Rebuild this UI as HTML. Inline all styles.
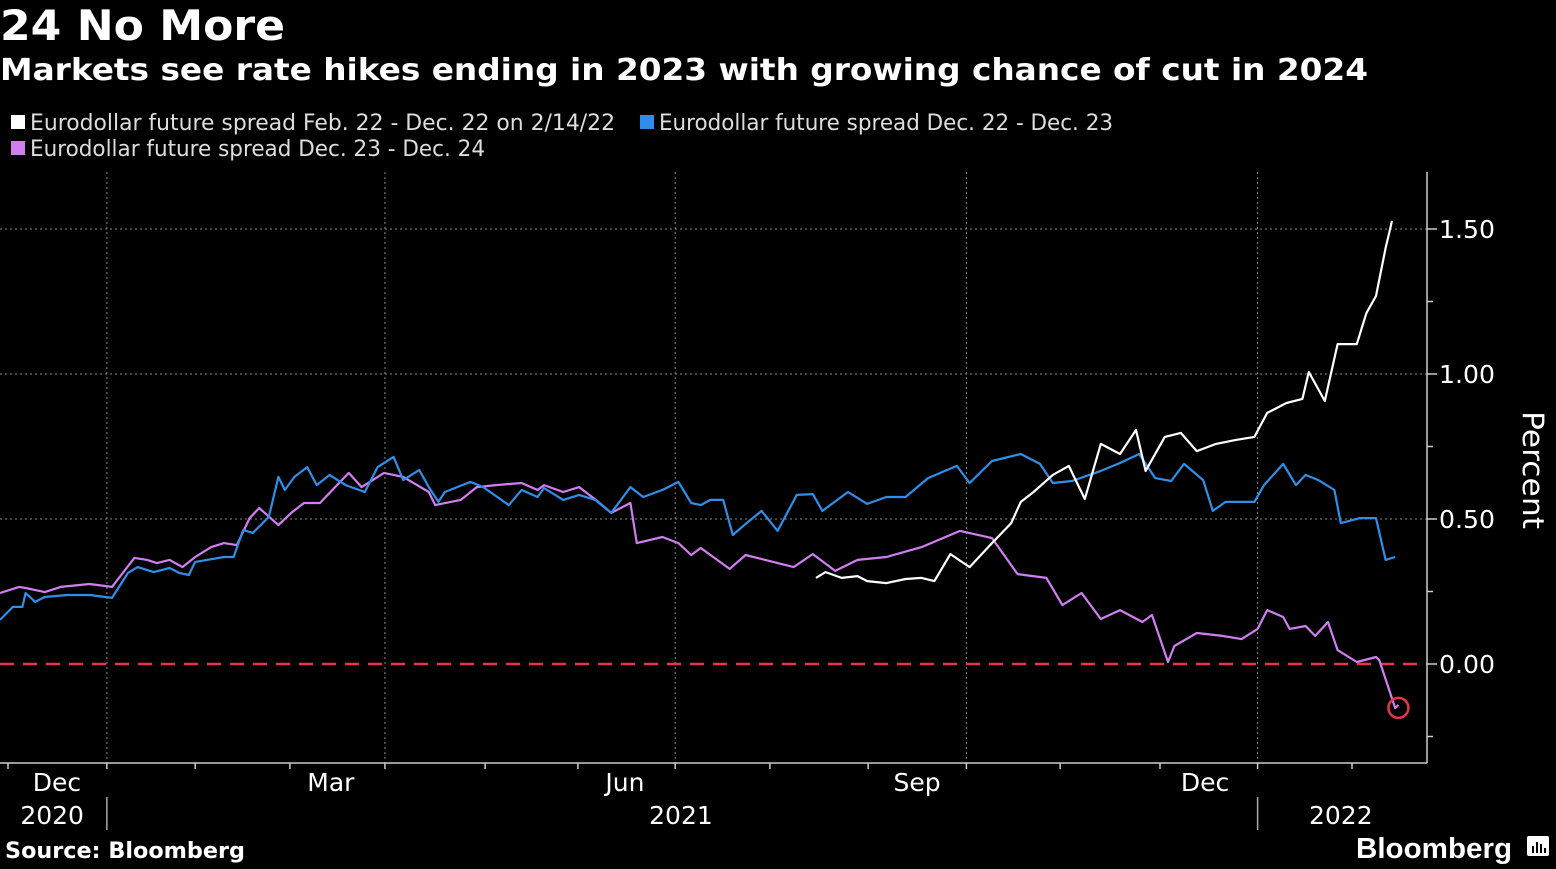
<!DOCTYPE html>
<html><head><meta charset="utf-8"><style>
html,body{margin:0;padding:0;background:#000;}
body{width:1556px;height:869px;overflow:hidden;position:relative;font-family:"DejaVu Sans","Liberation Sans",sans-serif;color:#fff;}
</style></head><body>
<svg id="chart" width="1556" height="869" xmlns="http://www.w3.org/2000/svg" style="position:absolute;left:0;top:0">
<rect width="1556" height="869" fill="#000"/>
<text x="0" y="40" font-size="42" font-weight="bold" fill="#fff" font-family="DejaVu Sans, sans-serif" textLength="285" lengthAdjust="spacingAndGlyphs">24 No More</text>
<text x="0" y="80" font-size="30" font-weight="bold" fill="#fff" font-family="DejaVu Sans, sans-serif" textLength="1368" lengthAdjust="spacingAndGlyphs">Markets see rate hikes ending in 2023 with growing chance of cut in 2024</text>
<g font-size="22" fill="#ddd" font-family="DejaVu Sans, sans-serif">
<g><rect x="11" y="115" width="14" height="14" fill="#fff"/><text x="30" y="130" textLength="585" lengthAdjust="spacingAndGlyphs">Eurodollar future spread Feb. 22 - Dec. 22 on 2/14/22</text></g>
<g><rect x="640" y="115" width="14" height="14" fill="#2f8fe8"/><text x="659" y="130" textLength="454" lengthAdjust="spacingAndGlyphs">Eurodollar future spread Dec. 22 - Dec. 23</text></g>
<g><rect x="11" y="141" width="14" height="14" fill="#d07ef0"/><text x="30" y="156" textLength="455" lengthAdjust="spacingAndGlyphs">Eurodollar future spread Dec. 23 - Dec. 24</text></g>
</g>
<g id="grid"></g>
<g id="axes"></g>
<g id="series"></g>
<text transform="translate(1523,470) rotate(90)" text-anchor="middle" font-size="29" fill="#fff" font-family="DejaVu Sans, sans-serif" textLength="118" lengthAdjust="spacingAndGlyphs">Percent</text>
<text x="5" y="858" font-size="22" font-weight="bold" fill="#fff" font-family="DejaVu Sans, sans-serif" textLength="240" lengthAdjust="spacingAndGlyphs">Source: Bloomberg</text>
<text x="1356" y="858" font-size="29" font-weight="bold" fill="#fff" font-family="Liberation Sans, sans-serif" textLength="156" lengthAdjust="spacingAndGlyphs">Bloomberg</text>
<g><rect x="1527" y="836" width="22" height="20" rx="2" fill="#fff"/><rect x="1532" y="846" width="2" height="7" fill="#000"/><rect x="1536" y="842" width="2" height="11" fill="#000"/><rect x="1540" y="844" width="2" height="9" fill="#000"/><rect x="1544" y="848" width="2" height="5" fill="#000"/></g>
</svg>
<script>
const yTicks=[0,0.5,1.0,1.5];
const yTickLabels=["0.00","0.50","1.00","1.50"];
const gridDays=[33.4,120.3,211,302,393];
const monthTickDays=[2.5,33.4,61,90.6,120.3,151.6,180.6,211,240.6,271.3,302,331.3,362.5,393,422.5];
const monthLabels=["Dec","Mar","Jun","Sep","Dec"];
const monthLabelDays=[17.8,103.4,195.3,286.6,376.6];
const yearLabels=["2020","2021","2022"];
const yearLabelDays=[16.3,212.8,419];
const yearSepDays=[33.4,393];

const whiteDays=[255,258,263,268,271,277,283,288,292,297,303,310,316,319,323,329,334,339,344,350,355,358,364,369,374,380,386,392,396,402,407,409,414,418,424,427,430,433,435];
const whiteVals=[0.297,0.317,0.297,0.303,0.286,0.279,0.293,0.297,0.286,0.379,0.334,0.417,0.486,0.559,0.593,0.652,0.683,0.569,0.759,0.724,0.807,0.666,0.783,0.797,0.734,0.759,0.772,0.783,0.866,0.9,0.914,1.007,0.907,1.103,1.103,1.21,1.269,1.434,1.528];

const blueDays=[0,4,7,8,11,14,21,28,35,40,43,48,53,56,59,61,70,73,76,79,84,87,89,92,96,99,103,108,114,118,123,126,131,134,137,139,147,151,159,163,168,170,176,181,186,191,197,201,207,212,216,219,222,226,229,233,238,243,249,254,257,265,271,277,283,290,299,303,310,319,325,329,335,344,350,356,361,366,370,376,379,383,392,395,401,405,408,412,417,419,425,430,433,436];
const blueVals=[0.152,0.197,0.197,0.245,0.214,0.231,0.238,0.238,0.228,0.314,0.334,0.317,0.331,0.314,0.307,0.352,0.369,0.369,0.462,0.452,0.507,0.645,0.6,0.645,0.679,0.617,0.652,0.617,0.593,0.679,0.714,0.634,0.669,0.61,0.559,0.593,0.628,0.61,0.548,0.6,0.576,0.607,0.566,0.583,0.566,0.521,0.61,0.576,0.6,0.628,0.555,0.548,0.566,0.566,0.445,0.483,0.528,0.459,0.583,0.586,0.528,0.593,0.552,0.576,0.576,0.641,0.683,0.624,0.7,0.724,0.69,0.624,0.631,0.666,0.693,0.724,0.641,0.631,0.69,0.634,0.528,0.559,0.559,0.617,0.69,0.617,0.652,0.634,0.6,0.486,0.503,0.503,0.359,0.369];

const purpleDays=[0,6,8,14,19,28,35,42,46,49,53,57,61,66,70,74,78,81,87,91,95,100,103,109,113,120,126,134,136,144,149,155,163,168,170,176,181,187,191,197,199,207,212,216,219,228,233,248,254,261,268,277,288,300,310,318,327,332,338,344,350,357,360,365,367,374,382,388,393,396,401,403,408,411,415,418,424,430,431,436,437];
const purpleVals=[0.245,0.266,0.262,0.248,0.266,0.276,0.266,0.366,0.359,0.348,0.359,0.334,0.369,0.403,0.417,0.41,0.503,0.538,0.479,0.521,0.555,0.555,0.59,0.659,0.61,0.659,0.645,0.593,0.548,0.566,0.61,0.617,0.624,0.6,0.617,0.593,0.61,0.559,0.521,0.555,0.417,0.438,0.417,0.376,0.4,0.328,0.376,0.334,0.379,0.321,0.359,0.369,0.403,0.459,0.434,0.31,0.297,0.203,0.245,0.155,0.186,0.145,0.169,0.007,0.062,0.107,0.097,0.086,0.121,0.186,0.162,0.121,0.131,0.097,0.145,0.048,0.007,0.024,0.014,-0.152,-0.141];

const NS="http://www.w3.org/2000/svg";
const PLOT_R=1427, PLOT_T=172, PLOT_B=763;
function xScale(d){return d*3.2;}
function yScale(v){return 664-v*290;}
function mk(tag,attrs,parent){const e=document.createElementNS(NS,tag);for(const k in attrs)e.setAttribute(k,attrs[k]);parent.appendChild(e);return e;}
const grid=document.getElementById('grid'),axes=document.getElementById('axes'),series=document.getElementById('series');
const FONT='DejaVu Sans, sans-serif';

yTicks.forEach((t,i)=>{
  if(t!==0){
    const l=mk('line',{x1:0,x2:PLOT_R,y1:yScale(t),y2:yScale(t),stroke:'#888','stroke-width':1,'stroke-dasharray':'2,3'},grid);
    
    
  }
  const tk=mk('line',{x1:PLOT_R,x2:PLOT_R+10,y1:yScale(t),y2:yScale(t),stroke:'#ccc','stroke-width':1.5},axes);
  
  
  const tx=mk('text',{x:PLOT_R+12,y:yScale(t)+9,'font-size':25,fill:'#fff','font-family':FONT,textLength:56,lengthAdjust:'spacingAndGlyphs'},axes);
  tx.textContent=yTickLabels[i];
  
  
});
[0.25,0.75,1.25,-0.25].forEach(t=>{
  const tk=mk('line',{x1:PLOT_R,x2:PLOT_R+6,y1:yScale(t),y2:yScale(t),stroke:'#ccc','stroke-width':1.5},axes);
  
  
});
gridDays.forEach(d=>{
  const l=mk('line',{x1:xScale(d),x2:xScale(d),y1:PLOT_T,y2:PLOT_B,stroke:'#888','stroke-width':1,'stroke-dasharray':'2,3'},grid);
  
  
});
const zl=mk('line',{x1:0,x2:PLOT_R,y1:yScale(0),y2:yScale(0),stroke:'#e8324f','stroke-width':2.5,'stroke-dasharray':'14,9'},grid);



const ya=mk('line',{x1:PLOT_R,x2:PLOT_R,y1:PLOT_T,y2:PLOT_B,stroke:'#ccc','stroke-width':1.5},axes);


const xa=mk('line',{x1:0,x2:PLOT_R,y1:PLOT_B,y2:PLOT_B,stroke:'#ccc','stroke-width':1.5},axes);


monthTickDays.forEach(d=>{
  const tk=mk('line',{x1:xScale(d),x2:xScale(d),y1:PLOT_B,y2:PLOT_B+6,stroke:'#ccc','stroke-width':1.5},axes);
  
  
});
monthLabels.forEach((m,i)=>{
  const tx=mk('text',{x:xScale(monthLabelDays[i]),y:791,'font-size':25,fill:'#fff','text-anchor':'middle','font-family':FONT},axes);
  tx.textContent=m;
  
  
});
yearLabels.forEach((m,i)=>{
  const tx=mk('text',{x:xScale(yearLabelDays[i]),y:824,'font-size':25,fill:'#fff','text-anchor':'middle','font-family':FONT},axes);
  tx.textContent=m;
  
  
});
yearSepDays.forEach(d=>{
  const l=mk('line',{x1:xScale(d),x2:xScale(d),y1:797,y2:830,stroke:'#aaa','stroke-width':1.5},axes);
  
  
});

function drawLine(days,vals,color,name){
  const pts=days.map((d,i)=>xScale(d).toFixed(1)+','+yScale(vals[i]).toFixed(1)).join(' ');
  const p=mk('polyline',{points:pts,fill:'none',stroke:color,'stroke-width':2.2,'stroke-linejoin':'round'},series);
  
  
}
drawLine(purpleDays,purpleVals,'#d07ef0','series-dec23-dec24');
drawLine(blueDays,blueVals,'#2f8fe8','series-dec22-dec23');
drawLine(whiteDays,whiteVals,'#ffffff','series-feb22-dec22');
const li=purpleDays.length-1;
const c=mk('circle',{cx:xScale(purpleDays[li]),cy:yScale(purpleVals[li])+3,r:10,fill:'none',stroke:'#e8324f','stroke-width':2.5},series);


</script>
</body></html>
